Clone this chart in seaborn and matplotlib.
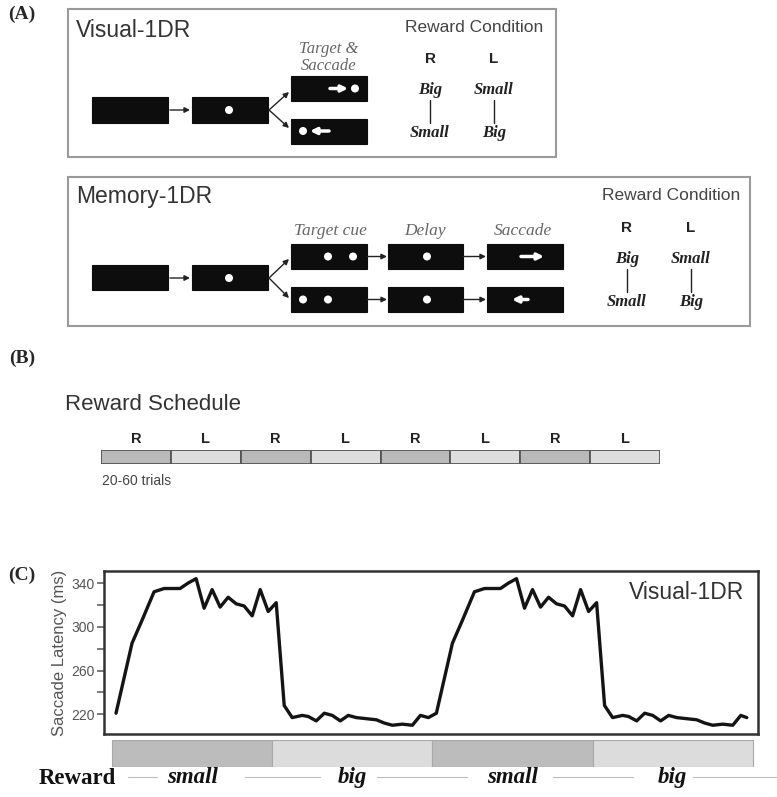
import matplotlib
matplotlib.use("Agg")
import matplotlib.pyplot as plt
import matplotlib.patches as mpatches
import seaborn as sns

# Panel B: alternating reward schedule blocks
schedule_sides = ["R", "L", "R", "L", "R", "L", "R", "L"]

# Panel C: reward size per block and trials per block
reward_blocks = ["small", "big", "small", "big"]
block_trials = [40, 40, 40, 40]

# Panel C: saccade latency trace (ms)
trial = [1, 5, 7.5, 10.5, 13, 17, 19, 21, 23, 25, 27, 29, 31, 33, 35, 37, 39, 41,
         43, 45, 47.5, 49, 51, 53, 55, 57, 59, 61, 66, 68, 70, 72.5, 75, 77, 79,
         81, 85, 87.5, 90.5, 93, 97, 99, 101, 103, 105, 107, 109, 111, 113, 115,
         117, 119, 121, 123, 125, 127.5, 129, 131, 133, 135, 137, 139, 141, 146,
         148, 150, 152.5, 155, 157, 158.5]
latency = [221, 285, 306, 332, 335, 335, 340, 344, 317, 334, 318, 327, 321, 319,
           310, 334, 314, 322, 228, 217, 219, 218, 214, 221, 219, 214, 219, 217,
           215, 212, 210, 211, 210, 219, 217,
           221, 285, 306, 332, 335, 335, 340, 344, 317, 334, 318, 327, 321, 319,
           310, 334, 314, 322, 228, 217, 219, 218, 214, 221, 219, 214, 219, 217,
           215, 212, 210, 211, 210, 219, 217]

ytick_values = [220, 240, 260, 280, 300, 320, 340]
ytick_labels = ["220", "", "260", "", "300", "", "340"]

W, H = 777, 797
sns.set_style("white")
plt.rcParams["font.family"] = ["Liberation Sans", "DejaVu Sans"]

fig = plt.figure(figsize=(W / 100, H / 100), dpi=100)


def px_axes(x0, y0, x1, y1):
    return fig.add_axes([x0 / W, 1 - y1 / H, (x1 - x0) / W, (y1 - y0) / H])


# full-figure canvas in pixel units for the schematic parts
cv = fig.add_axes([0, 0, 1, 1])
cv.set_xlim(0, W)
cv.set_ylim(H, 0)
cv.axis("off")

serif = ["Liberation Serif", "DejaVu Serif"]
dark = "#222222"


def screen(x0, y0, x1, y1):
    cv.add_patch(mpatches.Rectangle((x0, y0), x1 - x0, y1 - y0, fc="#0d0d0d", ec="#0d0d0d", lw=0.8))


def dot(x, y):
    cv.add_patch(mpatches.Circle((x, y), 4, fc="white", ec="none"))


def arrow(x0, y0, x1, y1, color=dark, lw=1.0, ms=8):
    cv.annotate("", xy=(x1, y1), xytext=(x0, y0),
                arrowprops=dict(arrowstyle="-|>", color=color, lw=lw,
                                mutation_scale=ms, shrinkA=0, shrinkB=0))


def reward_condition(cx, y_title, xr, xl, y_rl, y_top, y_bot):
    cv.text(cx, y_title, "Reward Condition", fontsize=12.5, color="#444", ha="center", va="center")
    cv.text(xr, y_rl, "R", fontsize=11, fontweight="bold", color=dark, ha="center", va="center")
    cv.text(xl, y_rl, "L", fontsize=11, fontweight="bold", color=dark, ha="center", va="center")
    for x, top, bot in [(xr, "Big", "Small"), (xl, "Small", "Big")]:
        cv.text(x, y_top, top, fontsize=12, family=serif, style="italic", fontweight="bold",
                color=dark, ha="center", va="center")
        cv.text(x, y_bot, bot, fontsize=12, family=serif, style="italic", fontweight="bold",
                color=dark, ha="center", va="center")
        cv.plot([x, x], [y_top + 10, y_bot - 10], color=dark, lw=1)


# ---------------- Panel A ----------------
cv.text(22, 14, "(A)", fontsize=14, family=serif, fontweight="bold", ha="center", va="center")

# Visual-1DR
cv.add_patch(mpatches.Rectangle((68, 9), 488, 148, fill=False, ec="#9a9a9a", lw=1.5))
cv.text(76, 30, "Visual-1DR", fontsize=16.5, color="#333", ha="left", va="center")
screen(92, 97, 168, 123)
screen(192, 97, 268, 123)
dot(229, 110)
arrow(170, 110, 190, 110)
arrow(269, 110, 289, 92)
arrow(269, 110, 289, 128)
screen(291, 76, 367, 101)
arrow(330, 88.5, 348, 88.5, color="white", lw=2.5, ms=9)
dot(355, 88.5)
screen(291, 119, 367, 144)
dot(303, 131)
arrow(329, 131, 310, 131, color="white", lw=2.5, ms=9)
cv.text(329, 49, "Target &", fontsize=12, family=serif, style="italic", color="#666", ha="center", va="center")
cv.text(329, 66, "Saccade", fontsize=12, family=serif, style="italic", color="#666", ha="center", va="center")
reward_condition(474, 27, 430, 494, 59, 90, 133)

# Memory-1DR
cv.add_patch(mpatches.Rectangle((68, 177), 682, 149, fill=False, ec="#9a9a9a", lw=1.5))
cv.text(76, 196, "Memory-1DR", fontsize=16.5, color="#333", ha="left", va="center")
screen(92, 265, 168, 290)
screen(192, 265, 268, 290)
dot(229, 278)
arrow(170, 278, 190, 278)
arrow(269, 278, 289, 259)
arrow(269, 278, 289, 298)
screen(291, 244, 367, 269)
dot(328, 256.5)
dot(353, 256.5)
screen(291, 287, 367, 312)
dot(303, 299.5)
dot(328, 299.5)
arrow(367, 256.5, 387, 256.5)
arrow(367, 299.5, 387, 299.5)
screen(388, 244, 463, 269)
dot(427, 256.5)
screen(388, 287, 463, 312)
dot(427, 299.5)
arrow(463, 256.5, 486, 256.5)
arrow(463, 299.5, 486, 299.5)
screen(487, 244, 563, 269)
arrow(521, 256.5, 544, 256.5, color="white", lw=2.5, ms=9)
screen(487, 287, 563, 312)
arrow(528, 299.5, 512, 299.5, color="white", lw=2.5, ms=9)
cv.text(330, 231, "Target cue", fontsize=12.5, family=serif, style="italic", color="#666", ha="center", va="center")
cv.text(425, 231, "Delay", fontsize=12.5, family=serif, style="italic", color="#666", ha="center", va="center")
cv.text(523, 231, "Saccade", fontsize=12.5, family=serif, style="italic", color="#666", ha="center", va="center")
reward_condition(671, 195, 627, 691, 228, 259, 302)

# ---------------- Panel B ----------------
cv.text(22, 358, "(B)", fontsize=14, family=serif, fontweight="bold", ha="center", va="center")
cv.text(65, 404, "Reward Schedule", fontsize=16, color="#333", ha="left", va="center")
cv.text(102, 481, "20-60 trials", fontsize=10, color="#444", ha="left", va="center")

axb = px_axes(101, 450, 660, 464)
side_colors = {"R": "#b9b9b9", "L": "#dddddd"}
for i, side in enumerate(schedule_sides):
    axb.barh(0, 1, left=i, height=1, color=side_colors[side], edgecolor="#555", lw=1.3)
    axb.text(i + 0.5, 1.3, side, fontsize=10.5, fontweight="bold", color=dark,
             ha="center", va="center", clip_on=False)
axb.set_xlim(0, len(schedule_sides))
axb.set_ylim(-0.5, 0.5)
axb.axis("off")

# ---------------- Panel C ----------------
cv.text(22, 575, "(C)", fontsize=14, family=serif, fontweight="bold", ha="center", va="center")

xlim = (-2, 161.3)
axc = px_axes(104, 571, 758, 734)
sns.lineplot(x=trial, y=latency, ax=axc, color="#141414", lw=2.4)
axc.set_xlim(*xlim)
axc.set_ylim(202, 351)
axc.set_xticks([])
axc.set_yticks(ytick_values)
axc.set_yticklabels(ytick_labels)
axc.tick_params(axis="y", direction="out", length=5, width=1.1, color="#555",
                labelsize=10, labelcolor="#555", pad=2, left=True)
axc.set_ylabel("Saccade Latency (ms)", fontsize=12, color="#555", labelpad=3)
axc.set_xlabel("")
for sp in axc.spines.values():
    sp.set_color("#333")
    sp.set_linewidth(1.8)
axc.text(0.979, 0.87, "Visual-1DR", transform=axc.transAxes, fontsize=16.5,
         color="#333", ha="right", va="center")

# reward bar under trace
axr = px_axes(104, 740, 758, 767)
block_colors = {"small": "#bcbcbc", "big": "#dcdcdc"}
start = 0
centers = []
for blk, n in zip(reward_blocks, block_trials):
    axr.barh(0, n, left=start, height=1, color=block_colors[blk], edgecolor="#a8a8a8", lw=0.8)
    centers.append(start + n / 2)
    start += n
axr.set_xlim(*xlim)
axr.set_ylim(-0.5, 0.5)
axr.axis("off")

cv.text(77, 778, "Reward", fontsize=16.5, family=serif, fontweight="bold", color="#111",
        ha="center", va="center")
for blk, c in zip(reward_blocks, centers):
    axr.text(c, -0.88, blk, fontsize=16.5, family=serif, style="italic", fontweight="bold",
             color="#111", ha="center", va="center", clip_on=False)
for x0, x1 in [(128, 157), (245, 320), (377, 467), (553, 633), (693, 777)]:
    cv.plot([x0, x1], [777, 777], color="#bbbbbb", lw=0.8)

fig.savefig("out.png", dpi=100)
